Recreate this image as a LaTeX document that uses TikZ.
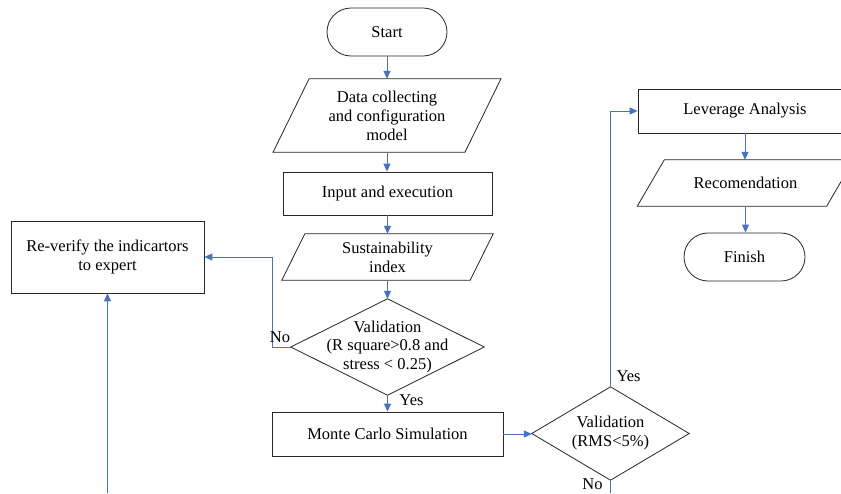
\documentclass[tikz,border=0pt]{standalone}
\usepackage{fontspec}
\setmainfont{Liberation Serif}
\usetikzlibrary{arrows.meta}
\definecolor{lnblue}{HTML}{4472C4}
\definecolor{edge}{HTML}{262626}
\begin{document}
\begin{tikzpicture}[x=1pt,y=-1pt,
  every node/.style={font=\fontsize{16.5}{19}\selectfont, align=center, text=black, inner sep=0pt},
  procbox/.style={draw=edge, line width=0.8pt},
  pill/.style={draw=edge, line width=0.8pt, rounded corners=24pt},
  slab/.style={draw=none},
  outl/.style={draw=edge, line width=0.8pt},
  conn/.style={draw=lnblue, line width=1pt, -{Triangle[length=8pt,width=7pt]}},
  plainln/.style={draw=lnblue, line width=1pt},
  lbl/.style={font=\fontsize{16.5}{19}\selectfont}
]
\useasboundingbox (0,0) rectangle (841,493);
\clip (0,0) rectangle (841,493);
\fill[white] (0,0) rectangle (841,493);

% nodes
\node[pill, minimum width=120pt, minimum height=48pt] (start) at (387,32) {Start};

\node[slab, minimum width=191.5pt, minimum height=73pt] (data) at (387,115.5) {Data collecting\\and configuration\\model};
\draw[outl] ([xshift=18pt]data.north west) -- ([xshift=18pt]data.north east) -- ([xshift=-18pt]data.south east) -- ([xshift=-18pt]data.south west) -- cycle;

\node[procbox, minimum width=209pt, minimum height=43pt] (input) at (387.5,193.5) {Input and execution};

\node[slab, minimum width=188pt, minimum height=46pt] (sust) at (387.5,257) {Sustainability\\index};
\draw[outl] ([xshift=11.5pt]sust.north west) -- ([xshift=11.5pt]sust.north east) -- ([xshift=-11.5pt]sust.south east) -- ([xshift=-11.5pt]sust.south west) -- cycle;

\node[slab, minimum width=193pt, minimum height=96pt, font=\fontsize{16.5}{18.5}\selectfont] (val1) at (387.5,347) {Validation\\(R square>0.8 and\\stress < 0.25)};
\draw[outl] (val1.north) -- (val1.east) -- (val1.south) -- (val1.west) -- cycle;

\node[procbox, minimum width=231pt, minimum height=44pt] (mc) at (387.5,434) {Monte Carlo Simulation};

\node[procbox, minimum width=193pt, minimum height=72pt] (rever) at (107.5,257) {Re-verify the indicartors\\to expert};

\node[slab, minimum width=157pt, minimum height=93pt] (val2) at (610.5,433.5) {Validation\\(RMS<5\%)};
\draw[outl] (val2.north) -- (val2.east) -- (val2.south) -- (val2.west) -- cycle;

\node[procbox, minimum width=214pt, minimum height=44pt] (lev) at (745,111) {Leverage Analysis};

\node[slab, minimum width=189pt, minimum height=46pt] (recom) at (745.5,183) {Recomendation};
\draw[outl] ([xshift=13.5pt]recom.north west) -- ([xshift=13.5pt]recom.north east) -- ([xshift=-13.5pt]recom.south east) -- ([xshift=-13.5pt]recom.south west) -- cycle;

\node[pill, minimum width=121pt, minimum height=48pt] (finish) at (744.5,257) {Finish};

% free ends
\coordinate (bot1) at (107.5,493);
\coordinate (bot2) at (610.5,493);

% connectors
\draw[conn] (start.south) -- (start.south |- data.north);
\draw[conn] (data.south) -- (data.south |- input.north);
\draw[conn] (input.south) -- (input.south |- sust.north);
\draw[conn] (sust.south) -- (val1.north);
\draw[conn] (val1.south) -- (mc.north);
\draw[conn] (val1.west) -- ++(-18,0) |- (rever.east);
\draw[conn] (bot1) -- (rever.south);
\draw[conn] (mc.east) -- (mc.east -| val2.west);
\draw[conn] (val2.north) |- (lev.west);
\draw[plainln] (val2.south) -- (bot2);
\draw[conn] (lev.south) -- (lev.south |- recom.north);
\draw[conn] (recom.south) -- (recom.south |- finish.north);

% labels
\node[lbl] (no1) at (280,337) {No};
\node[lbl] (yes1) at (411.5,400) {Yes};
\node[lbl] (yes2) at (628.5,376) {Yes};
\node[lbl] (no2) at (592.5,484) {No};
\end{tikzpicture}
\end{document}
